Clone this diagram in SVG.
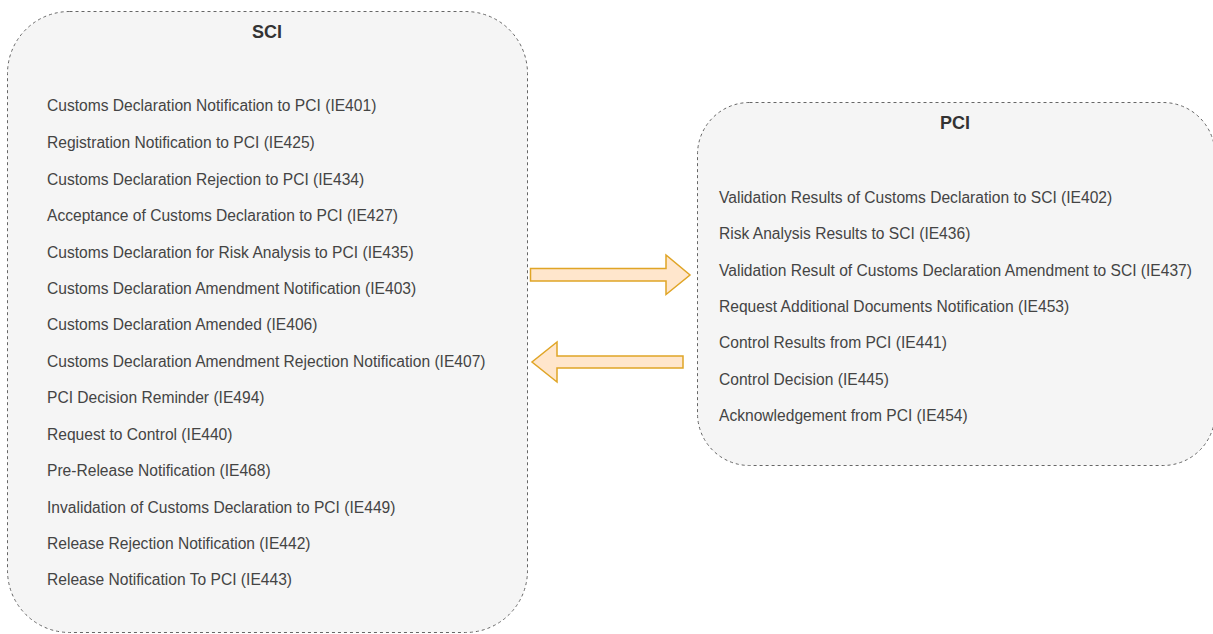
<svg xmlns="http://www.w3.org/2000/svg" width="1213" height="634" viewBox="0 0 1213 634">
<style>
.box{fill:#f5f5f5;stroke:#666;stroke-width:1;stroke-dasharray:3 3}
.title{font-family:"Liberation Sans",Arial,sans-serif;font-size:18px;font-weight:bold;fill:#333;text-anchor:middle}
.item{font-family:"Liberation Sans",Arial,sans-serif;font-size:15.6px;fill:#444}
.arrow{fill:#ffe6cc;stroke:#e0a526;stroke-width:1.5;stroke-linejoin:miter}
</style>
<rect width="1213" height="634" fill="#ffffff"/>
<g id="SCI">
<rect class="box" x="7.5" y="11.5" width="520" height="621" rx="62" ry="62"/>
<text class="title" x="267" y="37.5">SCI</text>
<text class="item" x="47" y="110.5">Customs Declaration Notification to PCI (IE401)</text>
<text class="item" x="47" y="147.5">Registration Notification to PCI (IE425)</text>
<text class="item" x="47" y="184.5">Customs Declaration Rejection to PCI (IE434)</text>
<text class="item" x="47" y="220.5">Acceptance of Customs Declaration to PCI (IE427)</text>
<text class="item" x="47" y="257.5">Customs Declaration for Risk Analysis to PCI (IE435)</text>
<text class="item" x="47" y="293.5">Customs Declaration Amendment Notification (IE403)</text>
<text class="item" x="47" y="329.5">Customs Declaration Amended (IE406)</text>
<text class="item" x="47" y="366.5">Customs Declaration Amendment Rejection Notification (IE407)</text>
<text class="item" x="47" y="402.5">PCI Decision Reminder (IE494)</text>
<text class="item" x="47" y="439.5">Request to Control (IE440)</text>
<text class="item" x="47" y="475.5">Pre-Release Notification (IE468)</text>
<text class="item" x="47" y="512.5">Invalidation of Customs Declaration to PCI (IE449)</text>
<text class="item" x="47" y="548.5">Release Rejection Notification (IE442)</text>
<text class="item" x="47" y="584.5">Release Notification To PCI (IE443)</text>
</g>
<g id="PCI">
<rect class="box" x="697.5" y="102.5" width="517.5" height="363" rx="52" ry="52"/>
<text class="title" x="955" y="128.5">PCI</text>
<text class="item" x="719" y="202.5">Validation Results of Customs Declaration to SCI (IE402)</text>
<text class="item" x="719" y="238.5">Risk Analysis Results to SCI (IE436)</text>
<text class="item" x="719" y="275.5">Validation Result of Customs Declaration Amendment to SCI (IE437)</text>
<text class="item" x="719" y="311.5">Request Additional Documents Notification (IE453)</text>
<text class="item" x="719" y="347.5">Control Results from PCI (IE441)</text>
<text class="item" x="719" y="384.5">Control Decision (IE445)</text>
<text class="item" x="719" y="420.5">Acknowledgement from PCI (IE454)</text>
</g>
<g id="connectors">
<path class="arrow" d="M530.5 268.5 L666 268.5 L666 255 L690 275 L666 294.5 L666 281 L530.5 281 Z"/>
<path class="arrow" d="M683 356 L557 356 L557 342 L532 362 L557 382 L557 368 L683 368 Z"/>
</g>
</svg>
